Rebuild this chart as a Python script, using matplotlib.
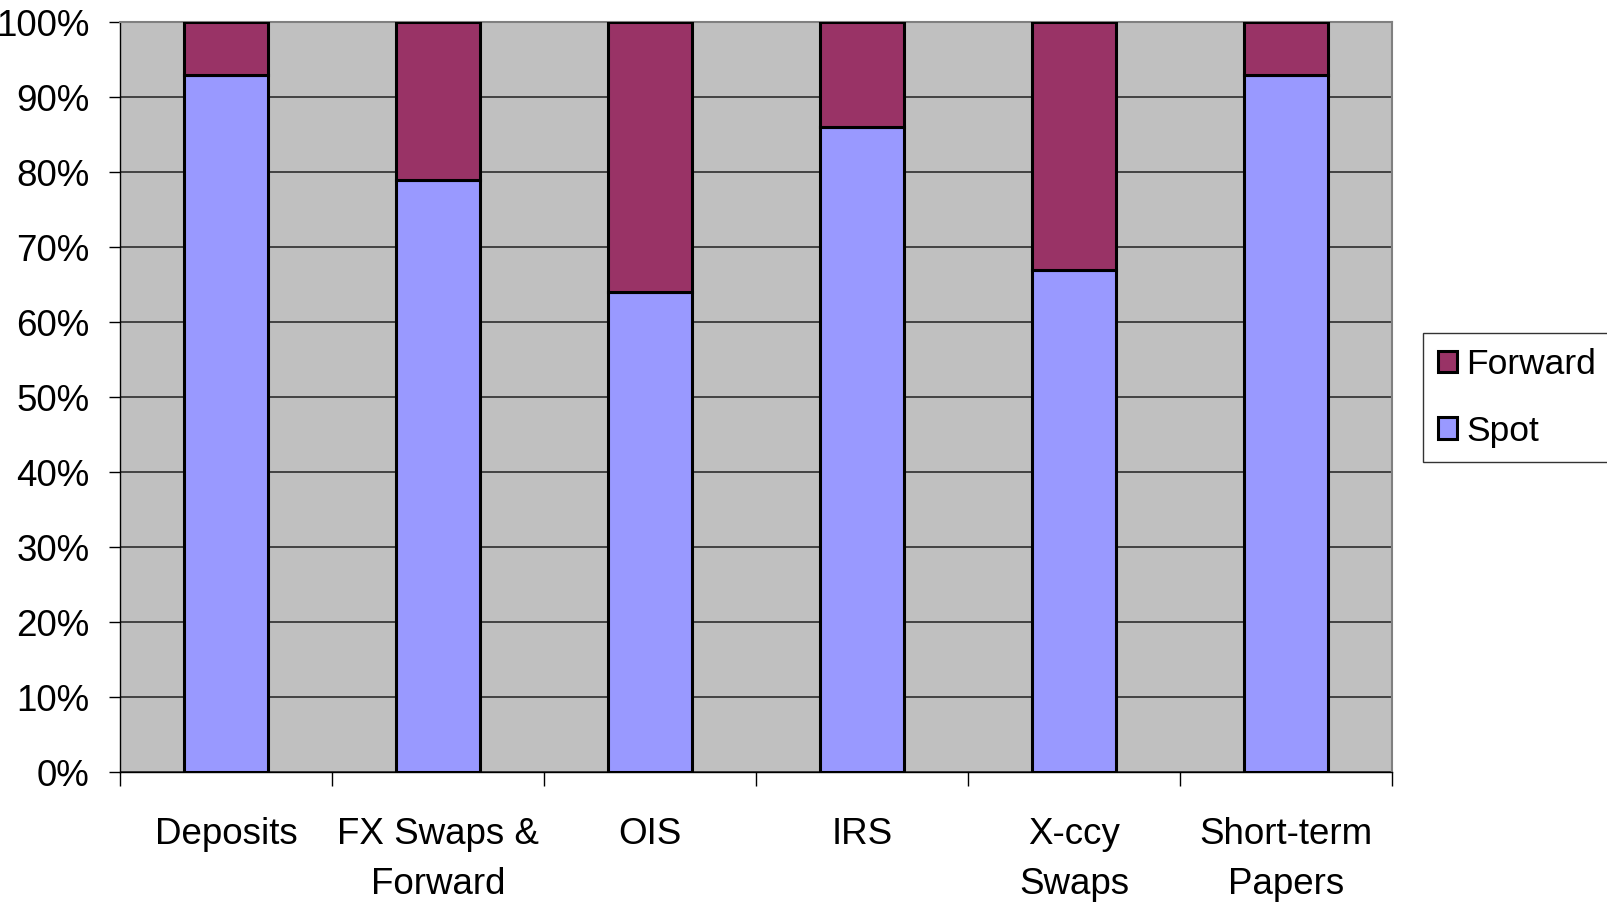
import matplotlib
matplotlib.use("Agg")
import matplotlib.pyplot as plt
import numpy as np

plt.rcParams['font.family'] = ['Liberation Sans', 'DejaVu Sans']

categories = ["Deposits", "FX Swaps &\nForward", "OIS", "IRS", "X-ccy\nSwaps", "Short-term\nPapers"]
spot = [93, 79, 64, 86, 67, 93]
forward = [7, 21, 36, 14, 33, 7]
yticks = [0, 10, 20, 30, 40, 50, 60, 70, 80, 90, 100]
ytick_labels = [f"{v}%" for v in yticks]

fig = plt.figure(figsize=(16.07, 9.06), dpi=100)
ax = fig.add_axes([120/1607, 1-772.3/906, (1392-120)/1607, (772.3-22)/906])
ax.set_facecolor('#C0C0C0')

x = np.arange(len(categories))
w = 0.40
b1 = ax.bar(x, spot, w, color='#9999FF', edgecolor='black', linewidth=2.2, label='Spot', zorder=3)
b2 = ax.bar(x, forward, w, bottom=spot, color='#993366', edgecolor='black', linewidth=2.2, label='Forward', zorder=3)

ax.set_xlim(-0.5, len(categories) - 0.5)
ax.set_ylim(0, 100)
ax.set_yticks(yticks)
ax.set_yticklabels(ytick_labels, fontsize=26.5)
ax.yaxis.grid(True, color='#202020', linewidth=1.1, zorder=1)
ax.set_axisbelow(True)

ax.set_xticks(x)
ax.set_xticklabels(categories, fontsize=26.5, linespacing=1.55)
ax.set_xticks(np.arange(len(categories) + 1) - 0.5, minor=True)
ax.tick_params(axis='x', which='major', length=0, pad=32)
ax.tick_params(axis='x', which='minor', length=10, width=1, color='black', direction='out')
ax.tick_params(axis='y', which='major', length=8, width=1, color='black', direction='out', pad=14)

for s in ['left', 'bottom']:
    ax.spines[s].set_color('black')
    ax.spines[s].set_linewidth(1.0)
for s in ['top', 'right']:
    ax.spines[s].set_color('#808080')
    ax.spines[s].set_linewidth(1.5)

leg = ax.legend([b2, b1], ['Forward', 'Spot'], loc='upper left',
                bbox_to_anchor=(1423/1607, 1-333/906), bbox_transform=fig.transFigure,
                fontsize=25.5, frameon=True, fancybox=False, edgecolor='black',
                handlelength=0.55, handleheight=0.55, handletextpad=0.25,
                labelspacing=0.95, borderpad=0.42, borderaxespad=0)
leg.get_frame().set_linewidth(1.0)

fig.savefig("out.png", dpi=100, facecolor='white')
